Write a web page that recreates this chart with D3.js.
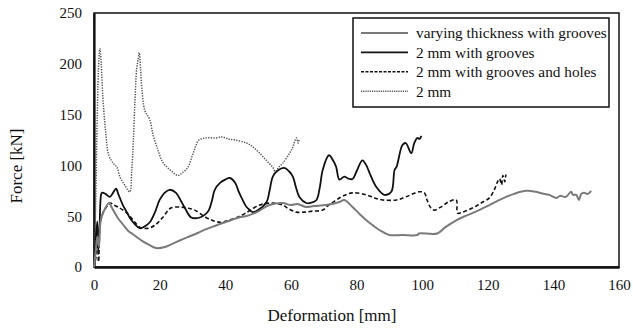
<!DOCTYPE html>
<html>
<head>
<meta charset="utf-8">
<script src="https://cdn.jsdelivr.net/npm/d3@7"></script>
<style>
  html, body { margin: 0; padding: 0; background: #fff; }
  svg { display: block; }
  text { font-family: "Liberation Serif", "Times New Roman", serif; fill: #111; }
</style>
</head>
<body>
<svg id="chart" width="633" height="329"></svg>
<script>
// Force–deformation curves, [deformation mm, force kN]
const varyingThickness = [
  [0,0],[0.5,15],[1,30],[1.5,20],[2,45],[3,55],[4.6,63],[5.5,58],[7.3,48],[8.8,42],[10.3,36],[12,32],
  [13.4,28.5],[15,25],[16.4,22.6],[18.9,18.7],[21.6,19.7],[24,23],[26.5,26.6],[29,30],[31.6,33.5],[34,37],
  [36.8,40.4],[39,43],[41.7,46],[44.4,49],[46.2,50],[49.6,54],[53.5,61],[57.5,63],[60,61],[62,62],[64.7,59],
  [67,60],[70.8,61],[74.8,64],[76.3,66],[78.8,59],[81,52],[83,46],[85,41],[87,36.4],[90,31.5],[94,31.5],
  [98.6,31.5],[99,33],[104.6,33],[107,39],[110.4,46],[113,50],[115.3,53],[118,57],[120.5,61],[123,65],
  [125.6,69],[128,72],[131.7,75],[134.7,74],[137,72],[138.7,71],[141,68],[142,70],[143.8,69],[145.4,74],
  [146,71],[147,71],[147.8,66],[148.5,72],[149.3,73],[150.5,72],[151.5,75]
];
const grooves2mm = [
  [0,0],[0.5,25],[1,45],[1.3,15],[1.7,40],[2.1,70],[2.4,73],[3.5,72],[4.8,69],[5.8,73],[6.7,77],[7.5,71],
  [8.8,61],[10,54],[11,48],[12.5,42],[14,38],[15.5,40],[17,44],[18.6,54],[20,66],[21.5,73],[23,76],[25,73],
  [26.5,65],[27.7,58],[29.5,49],[31,48],[32.5,49],[34,52],[35,56],[36,66],[36.8,76],[38.5,83],[40,86],
  [41.4,87.6],[43,83],[44,75],[45.3,66],[46.5,59],[47.5,56],[48.4,54],[50,56],[52.6,64],[53.5,75],[54.5,89],
  [56,95],[58,97.5],[59.5,94],[60.6,89],[61.5,79],[62.6,69],[64.7,63],[66,63],[67.8,66],[68.8,78],[69.7,95.5],
  [71.6,110],[73,104],[73.8,98.5],[74.8,86],[76.3,89],[77.5,87],[78.8,86.6],[80,94],[81.8,105],[83,100],
  [84,92.5],[86,79],[88.5,71],[90.6,74],[91.6,95.5],[92.2,98.5],[94,120],[95,122],[96.7,112],[97.6,122],
  [98.6,127],[99.2,126],[99.8,129]
];
const groovesHoles2mm = [
  [0,0],[0.6,10],[1,40],[1.4,5],[2,45],[3,55],[4.3,61],[5,63],[6,61],[7.3,59],[9.7,54],[12,46],[14,39],
  [16.4,38],[18.5,41],[21,49],[23.4,58],[26.5,59],[28.5,58],[30.7,56],[34,49],[36,46],[38.6,44],[41,46],
  [43.8,49],[46.2,53],[50.5,61],[54.5,63],[57.5,61],[59.5,57],[61.7,54],[64,54],[66.7,55],[69.7,56],
  [71.5,61],[73.9,66],[76,70],[78.8,73],[83,71],[85.5,68],[88,66],[92.2,66],[95,69],[99,74],[100.7,73],
  [101.5,66],[102.7,58],[103.7,56],[106.2,60],[108,64],[110.4,66],[110.8,53],[112.3,54],[115.3,58],
  [118,63],[120.5,68],[122,76],[123,84],[123.6,87],[124.2,81],[124.6,90],[125.2,84],[125.5,91]
];
const plain2mm = [
  [0,0],[0.5,60],[1,150],[1.5,205],[1.8,215],[2.2,200],[2.7,167],[3.5,135],[4.5,110],[5.9,102],[7,98],
  [8,88],[9.5,80],[10.9,74],[11.5,95],[12,125],[12.5,165],[13,195],[13.5,205],[13.8,211],[14.2,195],
  [14.6,175],[15.5,154],[17,145],[18,130],[19.5,115],[21,103],[23.4,95],[25.6,90],[27,93],[28.6,98],
  [30,110],[31,119],[32,125],[34,127],[37,127],[39,128],[41,126],[43,125],[46.5,122],[48.5,118],
  [50.5,112],[52.5,105],[54.5,98],[55.3,94],[56.5,99],[57.5,102],[59.6,112],[60.5,117],[61.2,124],
  [61.7,127],[62.2,122],[62.5,125]
];

const seriesNames = ["varying thickness with grooves", "2 mm with grooves", "2 mm with grooves and holes", "2 mm"];
const xTicks = [0, 20, 40, 60, 80, 100, 120, 140, 160];
const yTicks = [0, 50, 100, 150, 200, 250];

const styles = [
  { data: varyingThickness, color: "#7a7a7a", width: 2,   dash: null,      legendDash: null },
  { data: grooves2mm,       color: "#111",    width: 1.8, dash: null,      legendDash: null },
  { data: groovesHoles2mm,  color: "#111",    width: 1.6, dash: "4,2.5",   legendDash: "3,1.5" },
  { data: plain2mm,         color: "#555",    width: 1.5, dash: "1.3,1.3", legendDash: "1.2,1" }
];

const svg = d3.select("#chart");
const margin = { left: 94, right: 14, top: 13, bottom: 62 };
const W = 633, H = 329;

const x = d3.scaleLinear().domain([0, 160]).range([margin.left, W - margin.right]);
const y = d3.scaleLinear().domain([0, 250]).range([H - margin.bottom, margin.top]);

// Frame around the plotting area
svg.append("rect")
  .attr("x", x(0)).attr("y", y(250))
  .attr("width", x(160) - x(0)).attr("height", y(0) - y(250))
  .attr("fill", "none").attr("stroke", "#111").attr("stroke-width", 1.5);

// Axes (labels only, no tick marks)
const xAxis = svg.append("g").attr("transform", `translate(0,${y(0)})`)
  .call(d3.axisBottom(x).tickValues(xTicks).tickSize(0).tickPadding(12));
const yAxis = svg.append("g").attr("transform", `translate(${x(0)},0)`)
  .call(d3.axisLeft(y).tickValues(yTicks).tickSize(0).tickPadding(12));
[xAxis, yAxis].forEach(g => {
  g.attr("font-family", null).attr("font-size", null);
  g.selectAll("text").style("font-family", '"Liberation Serif", serif').style("font-size", "15px").attr("fill", "#111");
});
xAxis.select(".domain").attr("stroke", "#111").attr("stroke-width", 2.6);
yAxis.select(".domain").attr("stroke", "#111").attr("stroke-width", 2.2);

// Curves
const line = d3.line().x(d => x(d[0])).y(d => y(d[1])).curve(d3.curveCatmullRom.alpha(0.5));
const plot = svg.append("g");
styles.slice().reverse().forEach(s => {
  plot.append("path")
    .attr("d", line(s.data))
    .attr("fill", "none")
    .attr("stroke", s.color)
    .attr("stroke-width", s.width)
    .attr("stroke-dasharray", s.dash)
    .attr("stroke-linejoin", "round");
});

// Axis titles
svg.append("text")
  .attr("x", 332).attr("y", 321)
  .attr("text-anchor", "middle").style("font-size", "17px")
  .text("Deformation [mm]");
svg.append("text")
  .attr("transform", `translate(22,166) rotate(-90)`)
  .attr("text-anchor", "middle").style("font-size", "17px")
  .text("Force [kN]");

// Legend
const lg = svg.append("g");
lg.append("rect").attr("x", 353).attr("y", 18).attr("width", 256).attr("height", 89)
  .attr("fill", "#fff").attr("stroke", "#111").attr("stroke-width", 1.5);
seriesNames.forEach((name, i) => {
  const yy = 33 + i * 19.4;
  const s = styles[i];
  lg.append("line").attr("x1", 361).attr("x2", 408).attr("y1", yy).attr("y2", yy)
    .attr("stroke", s.color).attr("stroke-width", s.width)
    .attr("stroke-dasharray", s.legendDash);
  lg.append("text").attr("x", 416).attr("y", yy).attr("dy", "0.35em")
    .style("font-size", "15.3px").text(name);
});
</script>
</body>
</html>
